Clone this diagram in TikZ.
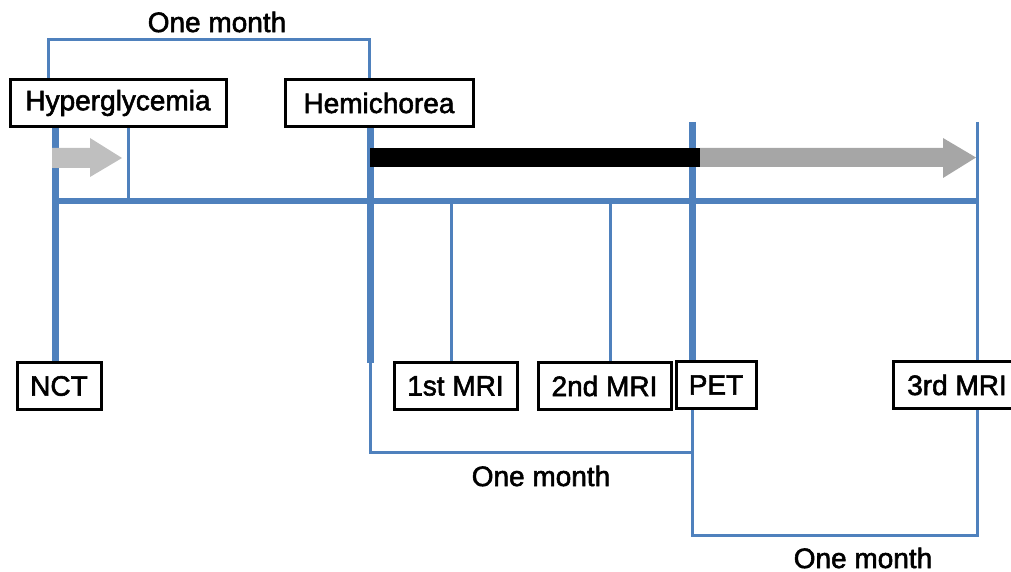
\documentclass[tikz,border=0pt]{standalone}
\usepackage{fontspec}
\setmainfont{Liberation Sans}[FakeBold=2]
\definecolor{tlblue}{HTML}{4F81BD}
\definecolor{lgray}{HTML}{BFBFBF}
\definecolor{dgray}{HTML}{A6A6A6}
\tikzset{
  lbl/.style={draw=black, line width=3pt, fill=white, minimum height=47pt, inner sep=0pt, font=\fontsize{28}{30}\selectfont},
  thinln/.style={draw=tlblue, line width=3pt},
  thickln/.style={draw=tlblue, line width=7pt},
  axisln/.style={draw=tlblue, line width=6.5pt},
  mon/.style={font=\fontsize{28}{30}\selectfont, inner sep=0pt}
}
\begin{document}
\begin{tikzpicture}[x=1pt,y=-1pt]
\useasboundingbox (0,0) rectangle (1011,572);
% coordinates
\coordinate (tbl) at (48,40);
\coordinate (tbr) at (369,40);
\coordinate (nctx) at (55.5,0);
\coordinate (hgx) at (128,0);
\coordinate (hemx) at (370,0);
\coordinate (m1x) at (451,0);
\coordinate (m2x) at (610,0);
\coordinate (petx) at (692,0);
\coordinate (m3x) at (977,0);
\coordinate (axl) at (55.5,201);
\coordinate (axr) at (977,201);
\coordinate (topv) at (0,122);
\coordinate (hemlow) at (0,363);
\coordinate (mbl) at (370,452);
\coordinate (mbr) at (692,452);
\coordinate (bbl) at (692,535);
\coordinate (bbr) at (977,535);

% nodes (placed first for anchors, redrawn on top later)
\node[lbl, minimum width=216pt] (hyp) at (118,103) {Hyperglycemia};
\node[lbl, minimum width=188pt] (hem) at (379,103) {Hemichorea};
\node[lbl, minimum width=84pt] (nct) at (59,386) {NCT};
\node[lbl, minimum width=123pt] (mri1) at (455.5,386) {1st MRI};
\node[lbl, minimum width=133pt] (mri2) at (604.5,386) {2nd MRI};
\node[lbl, minimum width=80pt] (pet) at (716,385) {PET};
\node[lbl, minimum width=128pt] (mri3) at (957,385) {3rd MRI};

% top bracket
\draw[thinln] (hyp.north -| tbl) -- (tbl) -- (tbr) -- (hem.north -| tbr);
% vertical markers
\draw[thickln] (hyp.south -| nctx) -- (nct.north -| nctx);
\draw[thinln] (hyp.south -| hgx) -- (axl -| hgx);
\draw[thickln] (hem.south -| hemx) -- (hemlow -| hemx);
\draw[thinln] (hemlow -| hemx) -- (mbl) -- (mbr) -- (pet.south -| mbr);
\draw[thinln] (pet.south -| petx) -- (bbl) -- (bbr) -- (mri3.south -| bbr);
\draw[thinln] (axl -| m1x) -- (mri1.north -| m1x);
\draw[thinln] (axl -| m2x) -- (mri2.north -| m2x);
\draw[thickln] (topv -| petx) -- (pet.north -| petx);
\draw[thinln] (topv -| m3x) -- (mri3.north -| m3x);
% axis
\draw[axisln] (axl) -- (axr);

% bars and arrows
\fill[lgray] (52,148) -- (90,148) -- (90,138) -- (122,158) -- (90,177) -- (90,168) -- (52,168) -- cycle;
\fill[black] (370,148) rectangle (700,167);
\fill[dgray] (700,148) -- (943,148) -- (943,138) -- (976,157.5) -- (943,178) -- (943,167) -- (700,167) -- cycle;

% redraw boxes on top
\node[lbl, minimum width=216pt] at (hyp) {Hyperglycemia};
\node[lbl, minimum width=188pt] at (hem) {Hemichorea};
\node[lbl, minimum width=84pt] at (nct) {NCT};
\node[lbl, minimum width=123pt] at (mri1) {1st MRI};
\node[lbl, minimum width=133pt] at (mri2) {2nd MRI};
\node[lbl, minimum width=80pt] at (pet) {PET};
\node[lbl, minimum width=128pt] at (mri3) {3rd MRI};

% labels
\node[mon] (om1) at (217,22) {One month};
\node[mon] (om2) at (541,476) {One month};
\node[mon] (om3) at (863,558) {One month};
\end{tikzpicture}
\end{document}
